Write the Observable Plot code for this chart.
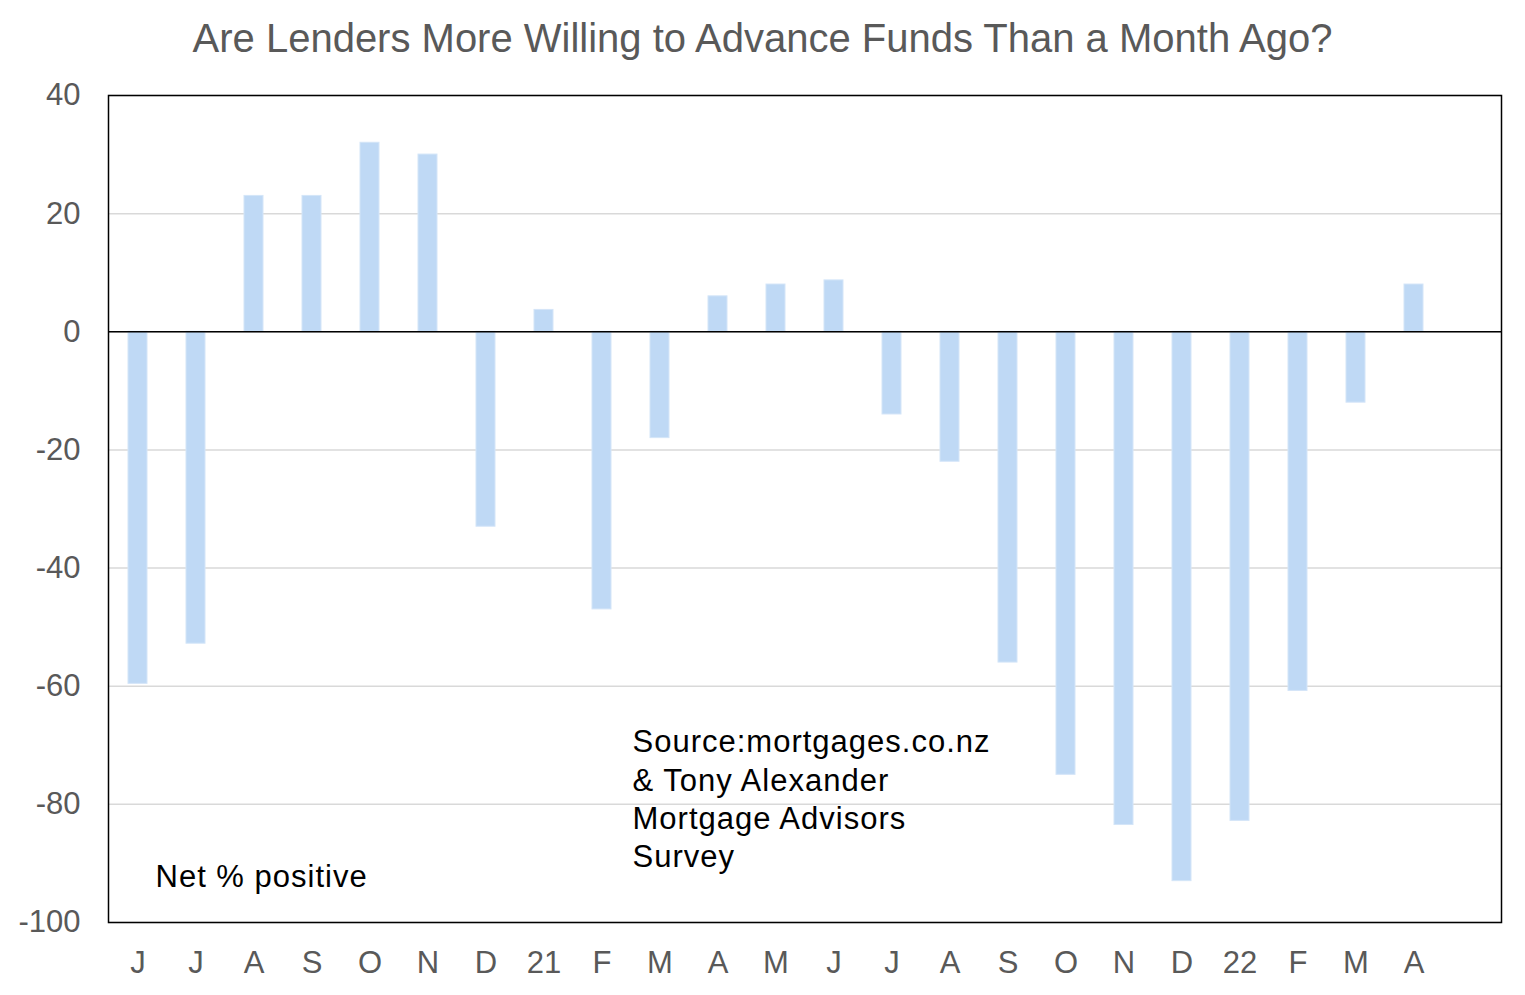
<!DOCTYPE html>
<html>
<head>
<meta charset="utf-8">
<script src="https://cdn.jsdelivr.net/npm/d3@7"></script>
<script src="https://cdn.jsdelivr.net/npm/@observablehq/plot@0.6"></script>
<style>
  html, body { margin: 0; padding: 0; background: #fff; }
  #title {
    width: 1525px; height: 80px; line-height: 76px; text-align: center;
    font-family: "Liberation Sans", Arial, sans-serif; font-size: 40px; color: #595959;
  }
  #chart svg { display: block; }
</style>
</head>
<body>
<div id="title">Are Lenders More Willing to Advance Funds Than a Month Ago?</div>
<div id="chart"></div>
<script>
const months = ["2020-06","2020-07","2020-08","2020-09","2020-10","2020-11","2020-12",
  "2021-01","2021-02","2021-03","2021-04","2021-05","2021-06","2021-07","2021-08","2021-09",
  "2021-10","2021-11","2021-12","2022-01","2022-02","2022-03","2022-04","2022-05"];
const tickLabels = ["J","J","A","S","O","N","D","21","F","M","A","M","J","J","A","S","O","N","D","22","F","M","A",""];
const values = [-59.6,-52.8,23,23,32,30,-33,3.7,-47,-18,6,8,8.7,-14,-22,-56,-75,-83.5,-93,-82.8,-60.8,-12,8];
const yTicks = [-100,-80,-60,-40,-20,0,20,40];
const noteLabel = "Net % positive";
const sourceLabel = "Source:mortgages.co.nz\n& Tony Alexander\nMortgage Advisors\nSurvey";

const data = values.map((v, i) => ({month: months[i], value: v}));

const chart = Plot.plot({
  width: 1525,
  height: 915,
  marginLeft: 108,
  marginRight: 24,
  marginTop: 15,
  marginBottom: 73,
  style: {fontFamily: "'Liberation Sans', Arial, sans-serif", fontSize: "31px", background: "#fff", overflow: "visible"},
  x: {domain: months, paddingInner: 0.67, paddingOuter: 0.335, label: null},
  y: {domain: [-100, 40], label: null},
  marks: [
    Plot.gridY(yTicks, {stroke: "#d9d9d9", strokeOpacity: 1, strokeWidth: 1.5}),
    Plot.barY(data, {x: "month", y: "value", fill: "#bfd9f5", stroke: "#d4e5f8", strokeWidth: 1}),
    Plot.ruleY([0], {stroke: "#000", strokeWidth: 1.5}),
    Plot.frame({stroke: "#000", strokeWidth: 1.5}),
    Plot.axisY(yTicks, {tickSize: 0, tickPadding: 28, fill: "#595959", fontSize: 31,
      tickFormat: d => String(d)}),
    Plot.axisX({tickSize: 0, tickPadding: 28, fill: "#595959", fontSize: 31,
      tickFormat: d => tickLabels[months.indexOf(d)]}),
    Plot.text([noteLabel], {text: d => d, frameAnchor: "bottom-left", dx: 47, dy: -45,
      textAnchor: "start", lineAnchor: "middle", fill: "#000", fontSize: 31}),
    Plot.text([sourceLabel], {text: d => d, frameAnchor: "top-left", dx: 524, dy: 702,
      textAnchor: "start", lineAnchor: "middle", lineHeight: 1.235, fill: "#000", fontSize: 31})
  ]
});
d3.select(chart).selectAll("g[aria-label='text'] text").style("letter-spacing", "1px");
document.getElementById("chart").appendChild(chart);
</script>
</body>
</html>
